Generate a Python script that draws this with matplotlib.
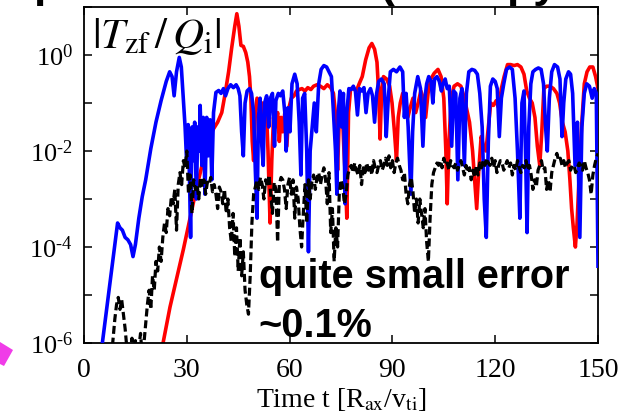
import numpy as np
import matplotlib
matplotlib.use("Agg")
import matplotlib.pyplot as plt
from matplotlib.patches import Polygon

plt.rcParams["font.family"] = "Liberation Serif"
plt.rcParams["mathtext.fontset"] = "stix"
plt.rcParams["axes.unicode_minus"] = False

# -----------------------------
# data, values are log10(|T_zf/Q_i|)
# -----------------------------
blue_t = [5.0, 9.8, 10.5, 11.2, 12.0, 12.8, 13.6, 14.3, 15.0, 16.0, 17.0, 18.0, 19.5, 21.0, 22.5,
          24.0, 25.0, 25.7, 26.3, 27.0, 27.8, 28.4, 29.0, 29.5, 30.0, 30.4, 30.8, 31.1, 31.5, 31.9,
          32.3, 32.8, 33.2, 33.6, 33.9, 34.4, 34.8, 35.3, 35.8, 36.3, 36.8, 37.3, 37.8, 38.5, 39.3,
          40.0, 40.7, 41.3, 42.0, 42.8, 43.6, 44.4, 45.0, 45.5, 46.0, 46.5, 47.0, 47.6, 48.3, 48.9,
          49.5, 50.0, 50.5, 50.9, 51.4, 51.9, 52.3, 52.7, 53.3, 53.9, 54.4, 55.0, 55.6, 56.0, 56.7,
          57.3, 58.0, 58.6, 59.0, 59.5, 60.1, 60.7, 61.5, 62.2, 62.8, 63.3, 63.8, 64.4, 65.0, 65.5,
          66.0, 66.6, 67.2, 67.8, 68.5, 69.2, 70.0, 70.8, 71.5, 72.2, 72.8, 73.4, 73.8, 74.2, 74.7,
          75.2, 75.7, 76.2, 76.7, 77.3, 78.0, 78.6, 79.2, 79.8, 80.4, 81.0, 81.7, 82.3, 82.9, 83.6,
          84.2, 84.8, 85.4, 86.0, 86.8, 87.6, 88.2, 88.8, 89.4, 90.3, 91.2, 92.2, 93.0, 93.5, 94.0,
          94.6, 95.4, 95.9, 96.5, 97.4, 98.2, 98.9, 99.5, 100.0, 100.6, 101.3, 101.8, 102.3, 103.0, 103.7,
          104.3, 104.8, 105.4, 106.0, 106.6, 107.3, 107.9, 108.5, 109.1, 109.7, 110.3, 111.0, 111.6, 112.3, 113.2,
          114.0, 114.8, 115.5, 116.2, 116.8, 117.4, 118.0, 118.6, 119.3, 120.0, 120.6, 121.2, 121.8, 122.5, 123.3,
          124.2, 125.0, 125.8, 126.5, 127.2, 127.8, 128.4, 128.9, 129.3, 129.8, 130.4, 131.0, 131.8, 132.6, 133.4,
          134.1, 134.7, 135.2, 135.8, 136.5, 137.3, 138.2, 138.9, 139.5, 140.0, 140.6, 141.4, 142.0, 142.6, 143.3,
          144.0, 144.7, 145.3, 146.0, 146.7, 147.5, 148.3, 148.9, 149.5, 150.0]
blue_log = [-6.2, -3.5, -3.6, -3.65, -3.8, -3.85, -3.95, -4.2, -3.95, -3.4, -2.95, -2.6, -1.95, -1.4, -0.95,
            -0.55, -0.35, -0.45, -0.85, -0.35, -0.05, -0.25, -0.95, -1.5, -2.3, -1.45, -2.6, -3.8, -1.5, -2.2,
            -1.4, -3.0, -1.5, -2.0, -1.05, -2.3, -1.3, -2.9, -1.3, -2.1, -1.35, -2.6, -1.2, -0.78, -0.74,
            -0.8, -0.7, -0.85, -0.7, -0.62, -0.68, -0.62, -0.7, -0.85, -1.6, -2.1, -1.0, -0.75, -0.7, -0.8,
            -1.2, -2.4, -3.4, -1.3, -0.9, -1.9, -2.3, -1.0, -0.85, -1.5, -0.9, -0.8, -1.9, -0.95, -0.8,
            -0.85, -0.75, -1.2, -2.0, -1.1, -1.6, -0.6, -0.4, -0.6, -1.4, -2.5, -0.9, -0.8, -2.0, -4.1,
            -2.0, -1.5, -1.0, -1.6, -0.6, -0.3, -0.22, -0.25, -0.35, -0.45, -1.2, -2.0, -2.9, -1.2, -0.75,
            -1.5, -0.8, -3.1, -1.2, -0.7, -0.72, -0.65, -0.75, -1.25, -0.7, -0.75, -0.68, -1.2, -0.8, -0.7,
            -0.85, -1.4, -0.8, -0.55, -0.5, -0.6, -1.7, -0.9, -0.35, -0.3, -0.35, -0.25, -0.35, -1.3, -0.8,
            -1.5, -2.9, -1.6, -0.8, -0.45, -0.7, -1.9, -0.9, -0.6, -0.45, -0.55, -1.0, -0.5, -0.45, -0.55,
            -0.75, -0.6, -0.5, -0.7, -0.65, -1.9, -0.75, -0.8, -2.6, -0.9, -0.7, -2.3, -0.8, -0.35, -0.3,
            -0.32, -0.4, -0.8, -1.5, -3.0, -3.8, -1.8, -0.65, -0.5, -0.55, -0.7, -1.7, -0.9, -0.6, -0.3,
            -0.25, -0.3, -0.9, -2.0, -3.4, -1.0, -0.75, -2.2, -3.7, -1.5, -0.6, -0.35, -0.3, -0.27, -0.3,
            -0.6, -1.5, -2.0, -0.9, -0.35, -0.2, -0.25, -0.5, -1.7, -1.0, -0.5, -0.35, -0.4, -0.8, -2.3,
            -1.4, -3.8, -1.5, -0.8, -0.6, -0.65, -0.9, -0.7, -0.8, -4.4]

red_t = [22.8, 25.1, 29.0, 32.9, 34.8, 36.0, 37.7, 39.0, 40.2, 41.2, 42.2, 43.1, 44.0, 44.6, 45.2,
         45.8, 46.5, 47.2, 47.8, 48.3, 48.7, 49.1, 49.5, 50.0, 50.5, 51.0, 51.6, 52.0, 52.6, 53.2,
         53.7, 54.3, 54.8, 55.3, 55.9, 56.5, 57.0, 57.5, 58.0, 58.6, 59.2, 59.8, 60.5, 61.3, 62.0,
         62.8, 63.6, 64.5, 65.3, 66.2, 67.0, 68.0, 69.0, 70.0, 71.0, 72.0, 72.8, 73.5, 74.0, 74.6,
         75.2, 75.8, 76.3, 76.7, 77.2, 77.8, 78.6, 79.5, 80.3, 81.2, 82.2, 83.2, 84.0, 84.8, 85.5,
         86.0, 86.4, 86.9, 87.4, 88.3, 89.2, 89.9, 90.6, 91.2, 91.7, 92.3, 93.0, 93.8, 94.5, 95.2,
         96.0, 96.8, 97.5, 98.3, 99.0, 99.7, 100.4, 101.2, 102.2, 103.3, 104.2, 105.0, 105.6, 106.0, 106.5,
         107.2, 108.0, 109.0, 110.0, 110.8, 111.6, 112.5, 113.4, 114.0, 114.6, 115.2, 115.9, 116.6, 117.3, 118.0,
         118.7, 119.5, 120.3, 121.0, 121.8, 122.6, 123.6, 124.5, 125.5, 126.5, 127.5, 128.4, 129.2, 130.0, 130.8,
         131.6, 132.3, 133.0, 133.6, 134.2, 135.0, 136.0, 137.0, 138.0, 138.8, 139.6, 140.4, 141.2, 141.8, 142.3,
         142.8, 143.4, 143.9, 144.5, 145.2, 146.0, 146.8, 147.6, 148.5, 149.3, 150.0]
red_log = [-6.1, -5.25, -4.05, -2.75, -2.2, -1.8, -1.55, -1.4, -1.2, -0.8, -0.35, 0.15, 0.6, 0.86, 0.6,
           0.2, 0.18, 0.05, -0.15, -0.45, -0.9, -1.8, -2.2, -1.2, -0.9, -0.95, -1.6, -1.0, -1.4, -1.1,
           -2.0, -3.5, -2.2, -1.3, -1.5, -1.2, -1.8, -1.3, -1.6, -1.2, -1.9, -1.1, -0.9, -0.85, -0.75,
           -0.72, -0.7, -0.75, -0.68, -0.72, -0.65, -0.62, -0.65, -0.7, -0.62, -0.68, -0.8, -1.3, -2.4, -1.1,
           -0.85, -1.9, -2.6, -3.4, -1.2, -0.7, -0.7, -0.75, -0.6, -0.45, -0.1, 0.15, 0.24, 0.12, -0.15,
           -0.8, -1.75, -0.7, -0.45, -0.5, -0.65, -1.0, -1.6, -2.2, -1.3, -1.0, -0.8, -0.9, -1.3, -1.1,
           -0.9, -1.2, -1.0, -0.75, -0.9, -1.3, -0.8, -0.5, -0.38, -0.3, -0.45, -0.9, -2.0, -3.1, -1.8,
           -0.9, -0.65, -0.6, -0.65, -0.85, -1.1, -1.4, -2.0, -2.6, -3.2, -2.4, -1.7, -1.9, -2.0, -1.5,
           -1.0, -1.05, -0.95, -1.1, -0.7, -0.45, -0.2, -0.2, -0.22, -0.2, -0.25, -0.4, -0.75, -0.9, -1.0,
           -1.3, -1.9, -2.3, -1.6, -0.7, -0.65, -0.65, -0.7, -0.8, -1.0, -1.4, -1.6, -2.0, -2.6, -3.2,
           -3.6, -4.0, -3.5, -2.5, -1.5, -0.6, -0.35, -0.25, -0.25, -0.45, -0.7]

# error curve, sampled every 0.5 from t = 8
black_t0 = 8.0
black_dt = 0.5
black_log = [-6.3, -5.9, -5.5, -5.2, -5.05, -5.3, -5.1, -5.4, -5.7, -6.1,
             -6.4, -6.2, -5.9, -6.3, -5.95, -6.5, -6.1, -5.8, -6.3, -6.0,
             -5.6, -5.2, -4.9, -5.3, -4.6, -4.9, -4.3, -4.5, -4.0, -4.3,
             -3.8, -3.5, -3.7, -3.2, -3.35, -2.95, -3.1, -2.8, -3.65, -2.7,
             -2.45, -2.7, -2.2, -2.35, -2.0, -2.9, -2.5, -3.3, -2.6, -2.8,
             -2.7, -3.0, -2.55, -2.75, -2.6, -2.9, -2.65, -2.7, -2.55, -2.85,
             -2.7, -2.9, -3.2, -2.75, -2.85, -3.1, -2.8, -3.3, -3.0, -3.6,
             -3.9, -3.3, -4.2, -3.6, -4.5, -3.8, -4.6, -4.1, -4.9, -5.2,
             -5.4, -4.6, -3.5, -2.9, -2.75, -2.6, -2.8, -2.55, -2.7, -3.0,
             -2.6, -2.75, -2.5, -2.9, -3.3, -2.65, -2.8, -3.9, -2.7, -2.55,
             -2.6, -2.8, -3.2, -2.7, -2.55, -2.9, -2.6, -3.4, -2.75, -3.0,
             -3.6, -4.0, -3.3, -2.7, -3.5, -2.6, -3.0, -2.65, -2.5, -2.8,
             -2.55, -2.45, -2.7, -2.5, -2.35, -2.6, -3.1, -2.45, -3.7, -3.2,
             -4.3, -3.6, -4.0, -2.9, -2.6, -2.75, -3.1, -2.9, -2.5, -2.35,
             -2.3, -2.45, -2.25, -2.4, -2.5, -2.3, -2.7, -2.35, -2.45, -2.25,
             -2.4, -2.3, -2.5, -2.2, -2.35, -2.45, -2.3, -2.2, -2.4, -2.3,
             -2.15, -2.3, -2.1, -2.35, -2.2, -2.45, -2.25, -2.15, -2.3, -2.4,
             -2.6, -2.45, -2.9, -3.1, -2.7, -2.55, -2.85, -3.3, -3.0, -3.5,
             -3.0, -3.3, -3.6, -3.2, -3.9, -4.3, -3.4, -2.7, -2.45, -2.35,
             -2.25, -2.3, -2.2, -2.35, -2.15, -2.3, -2.25, -2.4, -2.2, -2.3,
             -2.35, -2.25, -2.4, -2.3, -2.2, -2.35, -2.5, -2.3, -2.45, -2.35,
             -2.6, -2.4, -2.55, -2.3, -2.5, -2.25, -2.35, -2.2, -2.3, -2.15,
             -2.25, -2.3, -2.15, -2.35, -2.2, -2.45, -2.3, -2.2, -2.25, -2.4,
             -2.3, -2.2, -2.35, -2.25, -2.5, -2.3, -2.4, -2.2, -2.35, -2.45,
             -2.3, -2.35, -2.2, -2.4, -2.3, -2.5, -2.8, -2.6, -2.75, -2.4,
             -2.3, -2.2, -2.4, -2.35, -2.8, -2.6, -2.85, -2.45, -2.3, -2.15,
             -2.05, -2.2, -2.15, -2.3, -2.2, -2.35, -2.25, -2.2, -2.4, -2.3,
             -2.3, -2.45, -2.35, -2.25, -2.3, -2.4, -2.2, -2.35, -2.45, -2.6,
             -2.9, -2.5, -2.3, -2.15, -2.05]

x_ticks = [0, 30, 60, 90, 120, 150]
y_exponents = [-6, -5, -4, -3, -2, -1, 0, 1]

# -----------------------------
# figure
# -----------------------------
fig = plt.figure(figsize=(6.39, 4.19), dpi=100)
ax = fig.add_axes([84 / 639, 1 - 343 / 419, 514 / 639, 336 / 419])

black_t = black_t0 + black_dt * np.arange(len(black_log))

ax.plot(red_t, 10.0 ** np.array(red_log), color="#ff0000", lw=2.6, zorder=2)
ax.plot(blue_t, 10.0 ** np.array(blue_log), color="#0000ff", lw=2.6, zorder=3)
ax.plot(black_t, 10.0 ** np.array(black_log), color="black", lw=2.3,
        linestyle=(0, (2.5, 1.2)), zorder=4)

ax.set_yscale("log")
ax.set_xlim(0, 150)
ax.set_ylim(1e-6, 1e1)

ax.set_xticks(x_ticks)
ax.set_xticklabels([str(v) for v in x_ticks])
ax.set_yticks([10.0 ** e for e in y_exponents])
ylabels = []
for e in y_exponents:
    if e % 2 == 0 and e <= 0:
        ylabels.append(r"$\mathregular{10^{%s}}$" % str(e).replace("-", "\u2010"))
    else:
        ylabels.append("")
ax.set_yticklabels(ylabels)
ax.minorticks_off()

ax.tick_params(direction="in", length=6, width=1.1, top=True, right=True)
ax.tick_params(axis="x", labelsize=20, pad=11)
ax.tick_params(axis="y", labelsize=19, pad=8)
for s in ax.spines.values():
    s.set_linewidth(1.3)

ax.set_xlabel(r"Time t [R$_{\rm ax}$/v$_{\rm ti}$]", fontsize=20, labelpad=2)

ax.text(0.016, 0.972, r"$|T_{\rm zf}\,/\,Q_{\rm i}|$", transform=ax.transAxes,
        fontsize=31, ha="left", va="top")

ax.text(0.34, 0.164, "quite small error", transform=ax.transAxes,
        fontsize=28.5, fontweight="bold", family="Liberation Sans",
        ha="left", va="baseline", zorder=5)
ax.text(0.34, 0.018, "~0.1%", transform=ax.transAxes,
        fontsize=28.5, fontweight="bold", family="Liberation Sans",
        ha="left", va="baseline", zorder=5)

# cut-off slide title descenders at the very top
for xp, s in [(33, "p"), (380, "("), (506, "py")]:
    fig.text(xp / 639, 1 + 3 / 419, s, fontsize=32, fontweight="bold",
             family="Liberation Sans", ha="left", va="baseline")

# magenta arrow tip at the left edge
fig.patches.append(Polygon([(0, 1 - 342 / 419), (13 / 639, 1 - 350 / 419),
                            (4 / 639, 1 - 366 / 419), (0, 1 - 364 / 419)],
                           closed=True, transform=fig.transFigure,
                           facecolor="#f03ce8", edgecolor="none"))

fig.savefig("out.png", dpi=100)
